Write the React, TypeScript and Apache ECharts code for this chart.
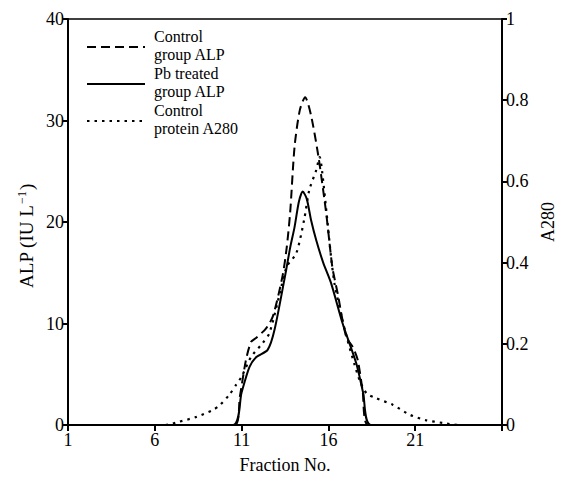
import React, { useEffect, useRef } from "react";
import * as echarts from "echarts";

const FONT = '"Liberation Serif", "Times New Roman", serif';

// [fraction, ALP (IU/L)]
const controlALP: [number, number][] = [
  [1, 0], [10.6, 0], [10.9, 2.8], [11.25, 6.4], [11.55, 8.2], [11.85, 8.6], [12.4, 9.5],
  [12.8, 10.7], [13.35, 14.6], [13.6, 17.5], [13.8, 21], [14.05, 27.4], [14.35, 31],
  [14.66, 32.3], [15.0, 30.5], [15.43, 26.4], [15.87, 20.9], [16.15, 16.6], [16.25, 15.3],
  [16.53, 13.0], [17.02, 8.7], [17.4, 7.7], [17.69, 6.4], [17.97, 3.4], [18.3, 0], [26, 0],
];

const pbALP: [number, number][] = [
  [1, 0], [10.5, 0], [11.0, 3.2], [11.45, 5.7], [11.85, 6.7], [12.5, 7.4], [12.9, 9.4],
  [13.57, 15.3], [13.8, 17.5], [14.05, 19.5], [14.3, 22.0], [14.52, 23.0], [14.75, 22.3],
  [15.0, 20.2], [15.3, 18.2], [15.7, 16.0], [16.15, 14.0], [16.82, 10.0], [17.6, 6.1],
  [18.0, 3.2], [18.45, 0], [26, 0],
];

// [fraction, A280]
const controlA280: [number, number][] = [
  [1, 0], [6.6, 0], [7.4, 0.008], [8.4, 0.02], [9.35, 0.037], [9.75, 0.049], [10.3, 0.075],
  [10.7, 0.1], [11.0, 0.119], [11.55, 0.168], [12.2, 0.201], [12.6, 0.226], [13.2, 0.324],
  [13.6, 0.39], [14.15, 0.423], [14.6, 0.505], [14.9, 0.579], [15.3, 0.628], [15.5, 0.66],
  [15.65, 0.62], [15.9, 0.52], [16.15, 0.415], [16.35, 0.349], [16.8, 0.26], [17.1, 0.209],
  [17.5, 0.15], [17.8, 0.11], [18.2, 0.078], [18.75, 0.066], [19.7, 0.05], [20.7, 0.025],
  [21.6, 0.012], [22.6, 0.005], [23.5, 0], [26, 0],
];

const legendLabels: [string, string][] = [
  ["Control", "group ALP"],
  ["Pb treated", "group ALP"],
  ["Control", "protein A280"],
];
const DASHED = [9, 5];
const DOTTED = [2.5, 5];
const legendDashes: (number[] | null)[] = [DASHED, null, DOTTED];

export default function App() {
  const ref = useRef<HTMLDivElement>(null);
  useEffect(() => {
    if (!ref.current) return;
    const chart = echarts.init(ref.current, null, { renderer: "svg" });
    const axisText = { color: "#000", fontSize: 18, fontFamily: FONT };
    const LINE = 18.5;
    const top0 = 28;
    const graphics: any[] = [];
    legendLabels.forEach((lines, i) => {
      const blockTop = top0 + i * 2 * LINE;
      const ly = Math.round(blockTop + LINE) ;
      graphics.push({
        type: "line",
        shape: { x1: 87, y1: ly, x2: 145, y2: ly },
        style: { stroke: "#000", lineWidth: 2, lineDash: legendDashes[i] },
        z: 10,
      });
      lines.forEach((t, j) => {
        graphics.push({
          type: "text",
          x: 154,
          y: blockTop + j * LINE,
          style: { text: t, font: `16px ${FONT}`, fill: "#000", verticalAlign: "top", lineHeight: 16 },
          z: 10,
        });
      });
    });
    graphics.push({
      type: "text",
      x: 26,
      y: 236,
      rotation: Math.PI / 2,
      style: {
        text: "ALP (IU L{sup|−1})",
        fill: "#000",
        font: `19px ${FONT}`,
        align: "center",
        verticalAlign: "middle",
        rich: {
          sup: { fontSize: 12, fontFamily: FONT, fill: "#000", padding: [0, 1, 8, 1] },
        },
      },
      z: 10,
    });
    chart.setOption({
      animation: false,
      backgroundColor: "#fff",
      grid: {
        left: 68, right: 60, top: 19, bottom: 52,
        show: true, borderColor: "#000", borderWidth: 1.5,
        outerBoundsMode: "none",
      },
      xAxis: {
        type: "value", min: 1, max: 26, interval: 5,
        name: "Fraction No.", nameLocation: "middle", nameGap: 31,
        nameTextStyle: axisText,
        axisLine: { show: true, lineStyle: { color: "#000", width: 2 } },
        axisTick: { show: true, inside: false, length: 6, lineStyle: { color: "#000", width: 2 } },
        axisLabel: { ...axisText, margin: 6, formatter: (v: number) => (v === 26 ? "" : String(v)) },
        splitLine: { show: false },
      },
      yAxis: [
        {
          type: "value", min: 0, max: 40, interval: 10, position: "left",
          axisLine: { show: true, lineStyle: { color: "#000", width: 2 } },
          axisTick: { show: true, length: 5, lineStyle: { color: "#000", width: 2 } },
          axisLabel: { ...axisText, margin: 4 },
          splitLine: { show: false },
        },
        {
          type: "value", min: 0, max: 1, interval: 0.2, position: "right",
          name: "A280", nameLocation: "middle", nameGap: 36, nameRotate: 90,
          nameTextStyle: axisText,
          axisLine: { show: true, lineStyle: { color: "#000", width: 2 } },
          axisTick: { show: true, length: 5, lineStyle: { color: "#000", width: 2 } },
          axisLabel: { ...axisText, margin: 4, formatter: (v: number) => String(Math.round(v * 10) / 10) },
          splitLine: { show: false },
        },
      ],
      series: [
        {
          type: "line", name: "Control group ALP", data: controlALP, yAxisIndex: 0,
          symbol: "none", smooth: 0.25,
          lineStyle: { color: "#000", width: 2, type: DASHED },
        },
        {
          type: "line", name: "Pb treated group ALP", data: pbALP, yAxisIndex: 0,
          symbol: "none", smooth: 0.25,
          lineStyle: { color: "#000", width: 2, type: "solid" },
        },
        {
          type: "line", name: "Control protein A280", data: controlA280, yAxisIndex: 1,
          symbol: "none", smooth: 0.25,
          lineStyle: { color: "#000", width: 2.2, type: DOTTED },
        },
      ],
      graphic: graphics,
    });
    return () => chart.dispose();
  }, []);
  return (
    <div
      ref={ref}
      style={{ position: "fixed", left: 0, top: 0, width: 562, height: 477, background: "#fff" }}
    />
  );
}
